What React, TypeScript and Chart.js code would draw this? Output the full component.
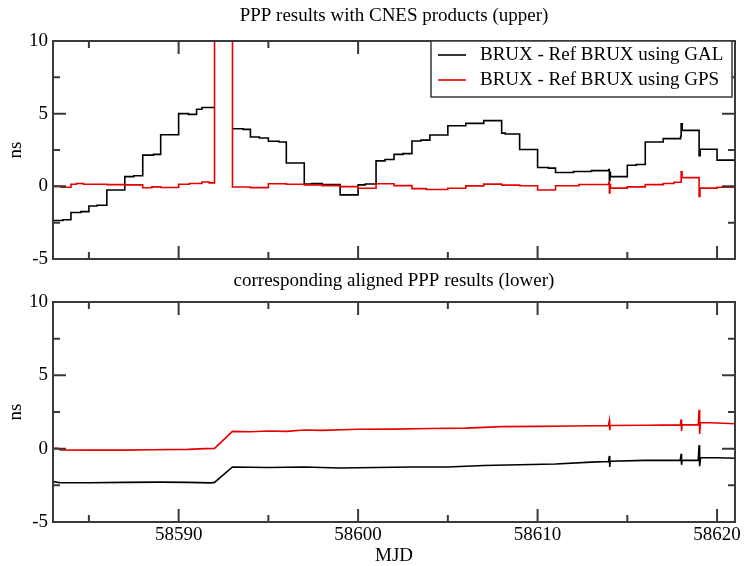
import React, { useEffect, useRef } from 'react';
import { Chart, registerables } from 'chart.js';

Chart.register(...registerables);

const FONT = "'Liberation Serif', 'Times New Roman', serif";
const RED = 'rgb(232,0,0)';
const FRAME = '#3a3a3a';

// ---- axes ----
const X_MIN = 58583;
const X_MAX = 58621;
const Y_MIN = -5;
const Y_MAX = 10;
const xMajorTicks = [58590, 58600, 58610, 58620];
const xMinorTicks = [58585, 58595, 58605, 58615];
const yMajorTicks = [-5, 0, 5, 10];
const yMinorTicks = [-2.5, 2.5, 7.5];

// ---- labels ----
const topTitle = 'PPP results with CNES products (upper)';
const bottomTitle = 'corresponding aligned PPP results (lower)';
const yTitle = 'ns';
const xTitle = 'MJD';
const galLabel = 'BRUX - Ref BRUX using GAL';
const gpsLabel = 'BRUX - Ref BRUX using GPS';

// ---- upper panel: GAL (step levels, value holds until next MJD) ----
const galTopMjd = [
  58583.0, 58583.55, 58584.0, 58584.55, 58585.0, 58585.45, 58586.0, 58587.0, 58587.5,
  58588.0, 58588.6, 58589.0, 58590.0, 58590.55, 58591.0, 58591.3, 58591.99, 58592.0,
  58593.0, 58593.6, 58594.0, 58594.5, 58595.0, 58595.6, 58596.0, 58597.0, 58597.4,
  58598.0, 58599.0, 58600.0, 58600.4, 58601.0, 58601.5, 58602.0, 58602.5, 58603.0,
  58603.5, 58604.0, 58605.0, 58606.0, 58607.0, 58608.0, 58608.2, 58609.0, 58610.0,
  58610.6, 58611.0, 58612.0, 58613.0, 58613.97, 58614.0, 58614.03, 58614.06, 58615.0,
  58615.5, 58616.0, 58617.0, 58617.97, 58618.0, 58618.06, 58619.0, 58619.06, 58620.0,
  58621.0,
];
const galTopNs = [
  -2.35, -2.3, -1.8, -1.74, -1.35, -1.3, -0.25, 0.67, 0.73,
  2.15, 2.2, 3.55, 5.0, 4.95, 5.3, 5.42, 5.42, null,
  3.96, 3.92, 3.39, 3.33, 3.1, 3.05, 1.61, 0.15, 0.2,
  0.12, -0.59, 0.1, 0.16, 1.75, 1.85, 2.2, 2.25, 3.12,
  3.18, 3.53, 4.17, 4.33, 4.52, 3.66, 3.6, 2.53, 1.3,
  1.25, 0.95, 1.02, 1.08, 1.15, 0.4, 0.95, 0.67, 1.45,
  1.5, 3.05, 3.28, 3.45, 4.3, 3.85, 2.1, 2.55, 1.8,
  1.8,
];

// ---- upper panel: GPS ----
const gpsTopMjd = [
  58583.0, 58583.45, 58584.0, 58584.3, 58584.7, 58586.0, 58587.0, 58588.0, 58588.5,
  58589.0, 58590.0, 58590.6, 58591.3, 58591.7, 58592.0, 58593.0, 58594.0, 58595.0,
  58596.0, 58597.0, 58598.0, 58599.0, 58600.0, 58601.0, 58602.0, 58603.0, 58603.8,
  58605.0, 58606.0, 58607.0, 58608.0, 58609.0, 58610.0, 58611.0, 58612.3, 58613.97,
  58614.0, 58614.03, 58614.06, 58615.0, 58616.0, 58617.0, 58617.6, 58618.0, 58618.05,
  58619.0, 58619.05, 58620.0, 58621.0,
];
const gpsTopNs = [
  0.0, -0.06, 0.14, 0.2, 0.14, 0.12, 0.1, -0.1, -0.04,
  -0.08, 0.14, 0.2, 0.3, 0.24, 40, -0.05, -0.09, 0.18,
  0.14, 0.1, 0.05, -0.02, -0.13, 0.18, 0.05, -0.16, -0.22,
  -0.13, 0.03, 0.15, 0.08, 0.04, -0.25, 0.04, 0.13, 0.28,
  -0.45, 0.12, -0.12, -0.04, 0.12, 0.2, 0.28, 1.0, 0.6,
  -0.7, -0.12, -0.06, -0.06,
];

// ---- lower panel: aligned GPS ----
const gpsLowMjd = [
  58583.0, 58583.3, 58583.4, 58585.0, 58587.0, 58588.5, 58590.5, 58591.5, 58592.0,
  58593.0, 58594.0, 58595.0, 58596.0, 58597.0, 58598.0, 58600.0, 58602.0, 58604.0,
  58606.0, 58608.0, 58610.0, 58612.0, 58613.95, 58614.0, 58614.02, 58614.05, 58616.0,
  58617.95, 58618.0, 58618.02, 58618.05, 58618.95, 58619.0, 58619.03, 58619.08, 58620.0,
  58621.0,
];
const gpsLowNs = [
  0.03, 0.02, -0.08, -0.1, -0.1, -0.07, -0.05, 0.0, 0.02,
  1.18, 1.15, 1.2, 1.18, 1.27, 1.25, 1.32, 1.33, 1.38,
  1.4, 1.5, 1.52, 1.55, 1.58, 1.9, 1.25, 1.58, 1.6,
  1.62, 2.0, 1.2, 1.62, 1.62, 2.65, 1.0, 1.78, 1.75,
  1.7,
];

// ---- lower panel: aligned GAL ----
const galLowMjd = [
  58583.0, 58583.4, 58585.0, 58587.0, 58589.0, 58590.5, 58591.8, 58592.0, 58593.0,
  58595.0, 58597.0, 58599.0, 58601.0, 58603.0, 58605.0, 58607.0, 58609.0, 58611.0,
  58613.0, 58613.95, 58614.0, 58614.02, 58614.05, 58616.0, 58617.95, 58618.0, 58618.02,
  58618.05, 58618.95, 58619.0, 58619.03, 58619.08, 58620.0, 58621.0,
];
const galLowNs = [
  -2.25, -2.32, -2.32, -2.3, -2.28, -2.3, -2.33, -2.3, -1.25,
  -1.28, -1.25, -1.32, -1.28, -1.25, -1.25, -1.15, -1.1, -1.05,
  -0.92, -0.88, -0.5, -1.25, -0.86, -0.8, -0.8, -0.35, -1.1,
  -0.8, -0.8, 0.24, -1.2, -0.62, -0.62, -0.65,
];

const pts = (xs: number[], ys: (number | null)[]) => xs.map((x, i) => ({ x, y: ys[i] }));

const framePlugin = {
  id: 'graceFrame',
  afterDatasetsDraw(chart: any) {
    const { ctx, chartArea: a, scales } = chart;
    const xs = scales.x;
    const ys = scales.y;
    ctx.save();
    ctx.strokeStyle = FRAME;
    ctx.lineWidth = 2;
    ctx.strokeRect(a.left, a.top, a.right - a.left, a.bottom - a.top);
    ctx.beginPath();
    const xt = (vals: number[], len: number) => {
      vals.forEach((v) => {
        const p = xs.getPixelForValue(v);
        ctx.moveTo(p, a.bottom);
        ctx.lineTo(p, a.bottom - len);
        ctx.moveTo(p, a.top);
        ctx.lineTo(p, a.top + len);
      });
    };
    const yt = (vals: number[], len: number) => {
      vals.forEach((v) => {
        const p = ys.getPixelForValue(v);
        ctx.moveTo(a.left, p);
        ctx.lineTo(a.left + len, p);
        ctx.moveTo(a.right, p);
        ctx.lineTo(a.right - len, p);
      });
    };
    xt(xMajorTicks, 13);
    xt(xMinorTicks, 7);
    yt(yMajorTicks, 13);
    yt(yMinorTicks, 7);
    ctx.stroke();
    ctx.restore();
  },
};

const legendPlugin = {
  id: 'graceLegend',
  afterDraw(chart: any) {
    const { ctx, chartArea: a } = chart;
    const w = 301;
    const h = 56;
    const left = a.right - 304;
    const top = a.top;
    ctx.save();
    ctx.fillStyle = '#fff';
    ctx.fillRect(left, top, w, h);
    ctx.strokeStyle = FRAME;
    ctx.lineWidth = 1.5;
    ctx.strokeRect(left, top, w, h);
    ctx.font = `19px ${FONT}`;
    ctx.textBaseline = 'middle';
    ctx.textAlign = 'left';
    chart.data.datasets.forEach((ds: any, i: number) => {
      const y = top + 14 + i * 25;
      ctx.strokeStyle = ds.borderColor;
      ctx.lineWidth = 1.6;
      ctx.beginPath();
      ctx.moveTo(left + 7, y);
      ctx.lineTo(left + 35, y);
      ctx.stroke();
      ctx.fillStyle = '#000';
      ctx.fillText(ds.label, left + 49, y);
    });
    ctx.restore();
  },
};

const tickFont = { family: FONT, size: 19, weight: 'normal' as const };

function yScale() {
  return {
    type: 'linear' as const,
    min: Y_MIN,
    max: Y_MAX,
    grid: { display: false, drawTicks: false, tickLength: 0 },
    border: { display: false },
    afterBuildTicks: (s: any) => {
      s.ticks = yMajorTicks.map((v) => ({ value: v }));
    },
    afterFit: (s: any) => {
      s.width = 53;
      s.paddingTop = 0;
      s.paddingBottom = 0;
    },
    ticks: { color: '#000', font: tickFont, padding: 5, callback: (v: any) => String(v) },
    title: { display: true, text: yTitle, color: '#000', font: tickFont, padding: { top: 4.5, bottom: 0 } },
  };
}

function lineDs(label: string, color: string, data: any[], stepped: any, order: number) {
  return {
    label,
    data,
    borderColor: color,
    backgroundColor: color,
    borderWidth: 1.6,
    pointRadius: 0,
    stepped,
    spanGaps: false,
    tension: 0,
    order,
  };
}

export default function App() {
  const topRef = useRef<HTMLCanvasElement | null>(null);
  const botRef = useRef<HTMLCanvasElement | null>(null);

  useEffect(() => {
    const top = new Chart(topRef.current as HTMLCanvasElement, {
      type: 'line',
      data: {
        datasets: [
          lineDs(galLabel, '#000', pts(galTopMjd, galTopNs), 'before', 1),
          lineDs(gpsLabel, RED, pts(gpsTopMjd, gpsTopNs), 'before', 0),
        ],
      },
      options: {
        animation: false,
        responsive: false,
        events: [],
        layout: { padding: { left: 0, top: 0, right: 10, bottom: 21 } },
        plugins: {
          legend: { display: false },
          tooltip: { enabled: false },
          title: {
            display: true,
            fullSize: false,
            text: topTitle,
            color: '#000',
            font: tickFont,
            padding: { top: 4.4, bottom: 13.8 },
          },
        },
        scales: {
          x: { type: 'linear', min: X_MIN, max: X_MAX, display: false },
          y: yScale(),
        },
      } as any,
      plugins: [framePlugin, legendPlugin],
    });

    const bot = new Chart(botRef.current as HTMLCanvasElement, {
      type: 'line',
      data: {
        datasets: [
          lineDs(galLabel, '#000', pts(galLowMjd, galLowNs), false, 1),
          lineDs(gpsLabel, RED, pts(gpsLowMjd, gpsLowNs), false, 0),
        ],
      },
      options: {
        animation: false,
        responsive: false,
        events: [],
        layout: { padding: { left: 0, top: 0, right: 10, bottom: 0 } },
        plugins: {
          legend: { display: false },
          tooltip: { enabled: false },
          title: {
            display: true,
            fullSize: false,
            text: bottomTitle,
            color: '#000',
            font: tickFont,
            padding: { top: 3.5, bottom: 9.7 },
          },
        },
        scales: {
          x: {
            type: 'linear',
            min: X_MIN,
            max: X_MAX,
            grid: { display: false, drawTicks: false, tickLength: 0 },
            border: { display: false },
            afterBuildTicks: (s: any) => {
              s.ticks = xMajorTicks.map((v) => ({ value: v }));
            },
            afterFit: (s: any) => {
              s.height = 44;
              s.paddingLeft = 0;
              s.paddingRight = 0;
            },
            ticks: {
              color: '#000',
              font: tickFont,
              padding: 2,
              maxRotation: 0,
              autoSkip: false,
              callback: (v: any) => String(v),
            },
            title: { display: true, text: xTitle, color: '#000', font: tickFont, padding: { top: 0, bottom: -1.5 } },
          },
          y: yScale(),
        },
      } as any,
      plugins: [framePlugin],
    });

    return () => {
      top.destroy();
      bot.destroy();
    };
  }, []);

  return (
    <div
      style={{
        position: 'fixed',
        left: 0,
        top: 0,
        width: 745,
        height: 566,
        overflow: 'hidden',
        background: '#fff',
      }}
    >
      <canvas
        ref={topRef}
        width={745}
        height={280}
        style={{ position: 'absolute', left: 0, top: 0, width: 745, height: 280 }}
      />
      <canvas
        ref={botRef}
        width={745}
        height={300}
        style={{ position: 'absolute', left: 0, top: 266, width: 745, height: 300 }}
      />
    </div>
  );
}
